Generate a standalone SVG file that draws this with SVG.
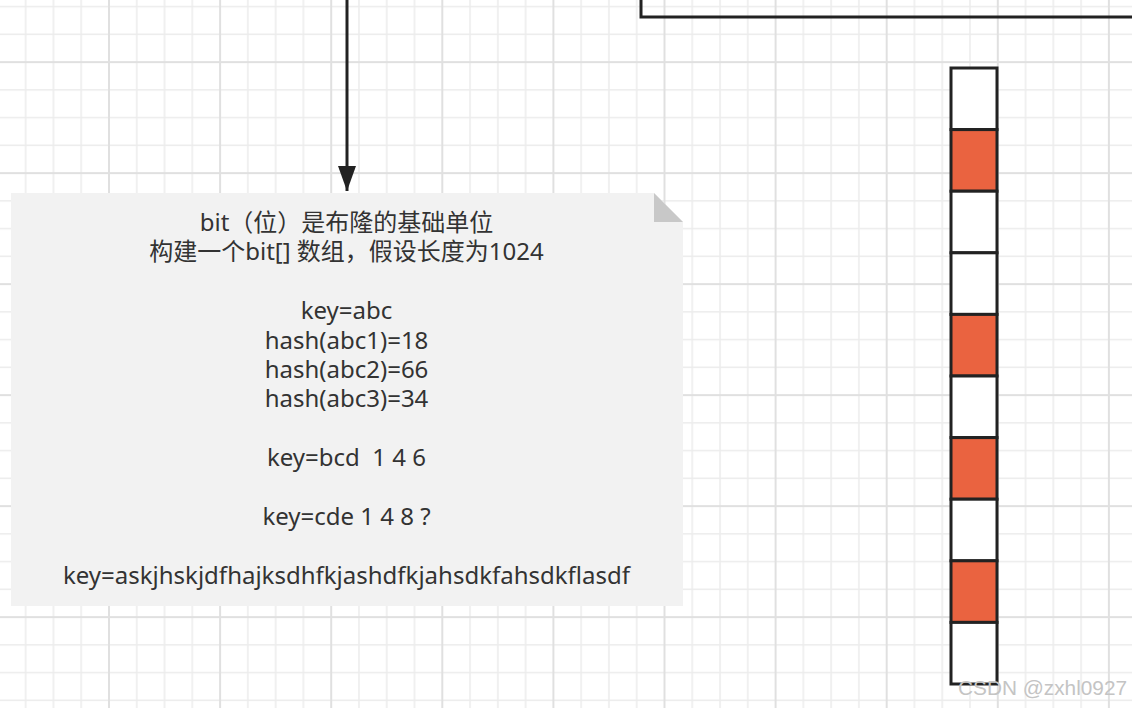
<svg xmlns="http://www.w3.org/2000/svg" width="1132" height="708" viewBox="0 0 1132 708">
  <style>
    .minor { stroke: #ececec; stroke-width: 1.5; }
    .major { stroke: #e0e0e0; stroke-width: 2; }
    .edge { fill: none; stroke: #222222; stroke-width: 3; }
    .cell { stroke: #222222; stroke-width: 3; }
    .on { fill: #ea6340; }
    .off { fill: #ffffff; }
    .note-body { fill: #f2f2f2; }
    .note-fold { fill: #c8c8c8; }
    .label { font-family: "Noto Sans", "Noto Sans CJK SC", sans-serif; font-size: 24px; fill: #333333; text-anchor: middle; white-space: pre; }
    .wm { font-family: "Liberation Sans", Arial, sans-serif; font-size: 20.8px; fill: #c4c4c4; }
  </style>
  <defs>
    <pattern id="grid" patternUnits="userSpaceOnUse" x="95.11" y="48.125" width="111.1" height="111">
      <line class="minor" x1="41.66" y1="0" x2="41.66" y2="111"/>
      <line class="minor" x1="69.44" y1="0" x2="69.44" y2="111"/>
      <line class="minor" x1="97.21" y1="0" x2="97.21" y2="111"/>
      <line class="minor" x1="0" y1="41.625" x2="111.1" y2="41.625"/>
      <line class="minor" x1="0" y1="69.375" x2="111.1" y2="69.375"/>
      <line class="minor" x1="0" y1="97.125" x2="111.1" y2="97.125"/>
      <line class="major" x1="13.89" y1="0" x2="13.89" y2="111"/>
      <line class="major" x1="0" y1="13.875" x2="111.1" y2="13.875"/>
    </pattern>
    <marker id="arrow" markerUnits="userSpaceOnUse" markerWidth="26" markerHeight="18" refX="25" refY="9" orient="auto" viewBox="0 0 26 18">
      <path d="M0,0 L25,9 L0,18 Z" fill="#222222"/>
    </marker>
  </defs>

  <rect id="background" x="0" y="0" width="1132" height="708" fill="#ffffff"/>
  <rect x="0" y="0" width="1132" height="708" fill="url(#grid)"/>

  <g id="top-box">
    <path class="edge" d="M641,-2 L641,17 L1134,17"/>
  </g>

  <g id="note">
    <path class="note-body" d="M11,193 L654,193 L683,222 L683,606 L11,606 Z"/>
    <path class="note-fold" d="M654,193 L654,222 L683,222 Z"/>
    <text class="label" x="346.5" y="231"><tspan x="346.5" y="231">bit（位）是布隆的基础单位</tspan><tspan x="346.5" y="260">构建一个bit[] 数组，假设长度为1024</tspan><tspan x="346.5" y="319">key=abc</tspan><tspan x="346.5" y="348.5">hash(abc1)=18</tspan><tspan x="346.5" y="378">hash(abc2)=66</tspan><tspan x="346.5" y="407">hash(abc3)=34</tspan><tspan x="346.5" y="466">key=bcd  1 4 6</tspan><tspan x="346.5" y="525">key=cde 1 4 8 ?</tspan><tspan x="346.5" y="584">key=askjhskjdfhajksdhfkjashdfkjahsdkfahsdkflasdf</tspan></text>
  </g>

  <g id="bit-array">
    <rect class="cell off" x="951" y="68" width="46" height="61.6"/>
    <rect class="cell on" x="951" y="129.6" width="46" height="61.6"/>
    <rect class="cell off" x="951" y="191.2" width="46" height="61.6"/>
    <rect class="cell off" x="951" y="252.8" width="46" height="61.6"/>
    <rect class="cell on" x="951" y="314.4" width="46" height="61.6"/>
    <rect class="cell off" x="951" y="376" width="46" height="61.6"/>
    <rect class="cell on" x="951" y="437.6" width="46" height="61.6"/>
    <rect class="cell off" x="951" y="499.2" width="46" height="61.6"/>
    <rect class="cell on" x="951" y="560.8" width="46" height="61.6"/>
    <rect class="cell off" x="951" y="622.4" width="46" height="61.6"/>
  </g>

  <g id="connectors">
    <line x1="347" y1="-2" x2="347" y2="191" stroke="#222222" stroke-width="3" marker-end="url(#arrow)"/>
  </g>

  <text class="wm" x="958" y="695">CSDN @zxhl0927</text>
</svg>
